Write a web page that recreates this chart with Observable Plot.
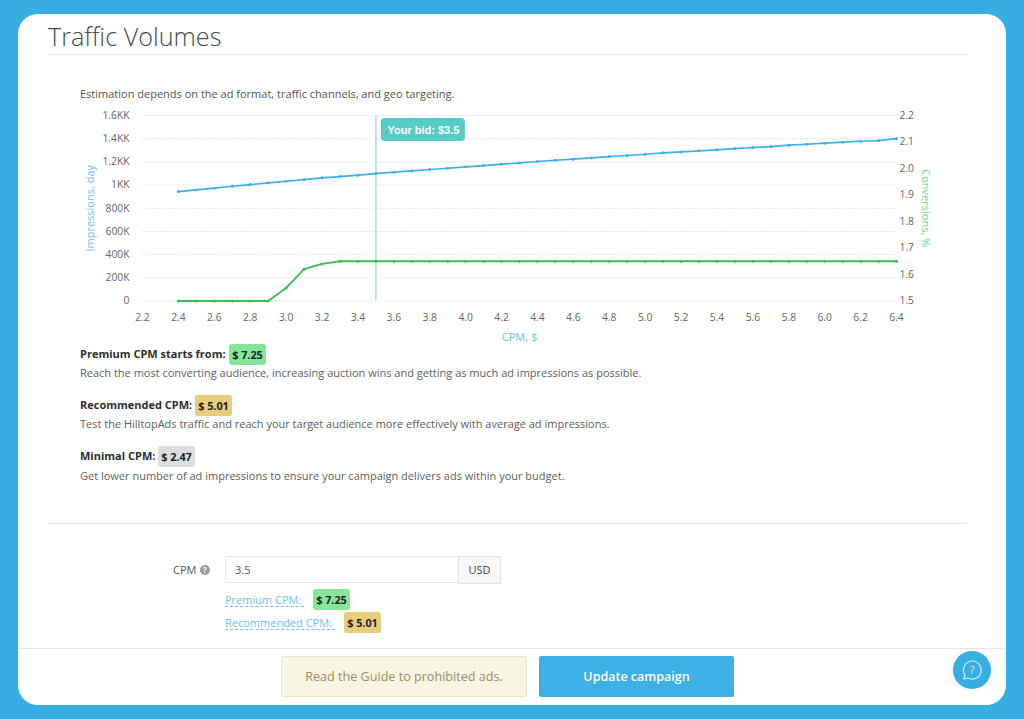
<!DOCTYPE html>
<html><head><meta charset="utf-8">
<script src="https://cdn.jsdelivr.net/npm/d3@7"></script>
<script src="https://cdn.jsdelivr.net/npm/@observablehq/plot@0.6"></script>
<style>
html,body{margin:0;padding:0;width:1024px;height:719px;overflow:hidden;background:#37aee2;font-family:"Open Sans",sans-serif;color:#555}
#card{position:absolute;left:18px;top:14px;width:988px;height:691px;background:#fff;border-radius:20px}
.a{position:absolute;white-space:nowrap;line-height:1}
.hr{position:absolute;left:48px;width:919px;height:0;border-top:1px solid #e6e6e6}
.badge{position:absolute;height:21px;line-height:21px;text-align:center;border-radius:3px;font-weight:700;font-size:10.8px;color:#222;width:37px}
.g{background:#87e59b}.y{background:#e8cd7c}.n{background:#dedede}
.b{font-weight:700;font-size:11px;color:#2e2e2e;left:80px}
.d{font-size:11px;color:#606060;left:80px}
.lnk{font-size:11px;color:#6cc3ee;left:225px;border-bottom:1px dashed #6cc3ee;padding-bottom:1px;padding-right:3px}
#chart{position:absolute;left:60px;top:100px;width:900px;height:250px}
#chart svg{display:block;overflow:visible}
</style></head><body>
<div id="card"></div>
<div class="a" style="left:48px;top:24px;font-size:25.2px;font-weight:300;color:#4a4a52">Traffic Volumes</div>
<div class="hr" style="top:54px;border-top:1px dotted #d8d8d8"></div>
<div class="a" style="left:80px;top:88px;font-size:11px;color:#555">Estimation depends on the ad format, traffic channels, and geo targeting.</div>
<div id="chart"></div>

<div class="a b" style="top:348px">Premium CPM starts from:</div>
<div class="badge g" style="left:229px;top:344px">$ 7.25</div>
<div class="a d" style="top:367px">Reach the most converting audience, increasing auction wins and getting as much ad impressions as possible.</div>
<div class="a b" style="top:399px">Recommended CPM:</div>
<div class="badge y" style="left:195px;top:395px">$ 5.01</div>
<div class="a d" style="top:418px">Test the HilltopAds traffic and reach your target audience more effectively with average ad impressions.</div>
<div class="a b" style="top:450px">Minimal CPM:</div>
<div class="badge n" style="left:158px;top:446px">$ 2.47</div>
<div class="a d" style="top:470px">Get lower number of ad impressions to ensure your campaign delivers ads within your budget.</div>

<div class="hr" style="top:523px"></div>

<div class="a" style="left:173px;top:564px;font-size:11px;color:#555">CPM</div>
<div class="a" style="left:200px;top:565px;width:10px;height:10px;border-radius:50%;background:#999;color:#fff;font-size:8px;font-weight:700;text-align:center;line-height:10px">?</div>
<div class="a" style="left:225px;top:556px;width:275px;height:27px;box-sizing:border-box;border:1px solid #e8e8e8;border-radius:2px"></div>
<div class="a" style="left:458px;top:556px;width:43px;height:28px;box-sizing:border-box;border:1px solid #e4e4e4;background:#f8f8f8;text-align:center;line-height:26px;font-size:11px;color:#444">USD</div>
<div class="a" style="left:235px;top:564px;font-size:11px;color:#555">3.5</div>
<div class="a lnk" style="top:594px">Premium CPM:</div>
<div class="badge g" style="left:313px;top:589px">$ 7.25</div>
<div class="a lnk" style="top:617px">Recommended CPM:</div>
<div class="badge y" style="left:344px;top:612px">$ 5.01</div>

<div class="a" style="left:18px;top:648px;width:988px;height:0;border-top:1px solid #e8e8e8"></div>
<div class="a" style="left:281px;top:656px;width:246px;height:41px;box-sizing:border-box;border:1px solid #ebe6c8;border-radius:2px;background:#f8f5e3;color:#a08c64;font-size:12.6px;text-align:center;line-height:39px">Read the Guide to prohibited ads.</div>
<div class="a" style="left:539px;top:656px;width:195px;height:41px;border-radius:2px;background:#3db0e6;color:#fff;font-size:12.5px;font-weight:600;text-align:center;line-height:41px">Update campaign</div>
<div class="a" style="left:953px;top:651px;width:38px;height:38px;border-radius:50%;background:#37aee2;box-shadow:0 0 12px rgba(0,0,0,.06)">
<svg width="38" height="38" viewBox="0 0 38 38" fill="none" stroke="#cfeefb" stroke-width="1.2"><path d="M19 10a9 9 0 1 1-4 17l-4 1 1-4a9 9 0 0 1 7-14z"/><text x="19" y="23" text-anchor="middle" font-size="11" fill="#cfeefb" stroke="none" font-family="Open Sans">?</text></svg></div>

<script>
const cpm = [2.4,2.5,2.6,2.7,2.8,2.9,3.0,3.1,3.2,3.3,3.4,3.5,3.6,3.7,3.8,3.9,4.0,4.1,4.2,4.3,4.4,4.5,4.6,4.7,4.8,4.9,5.0,5.1,5.2,5.3,5.4,5.5,5.6,5.7,5.8,5.9,6.0,6.1,6.2,6.3,6.4];
const impressionsK = [944,958,973,990,1004,1019,1033,1047,1062,1073,1085,1099,1111,1122,1134,1145,1157,1168,1180,1191,1203,1214,1223,1234,1246,1255,1266,1278,1286,1295,1304,1315,1324,1332,1344,1352,1361,1370,1378,1384,1401];
const conversions = [1.5,1.5,1.5,1.5,1.5,1.5,1.549,1.62,1.64,1.65,1.65,1.65,1.65,1.65,1.65,1.65,1.65,1.65,1.65,1.65,1.65,1.65,1.65,1.65,1.65,1.65,1.65,1.65,1.65,1.65,1.65,1.65,1.65,1.65,1.65,1.65,1.65,1.65,1.65,1.65,1.65];
const xTicks = [2.2,2.4,2.6,2.8,3.0,3.2,3.4,3.6,3.8,4.0,4.2,4.4,4.6,4.8,5.0,5.2,5.4,5.6,5.8,6.0,6.2,6.4];
const leftTicks = [0,200,400,600,800,1000,1200,1400,1600];
const rightTicks = [1.5,1.6,1.7,1.8,1.9,2.0,2.1,2.2];
const bid = 3.5;

const toLeft = d3.scaleLinear([1.5,2.2],[0,1600]);
const blue = "#3fb0e8", green = "#3dbb5e", tick = "#666";
const rows = cpm.map((x,i)=>({x, imp:impressionsK[i], conv:toLeft(conversions[i])}));
const fmtK = v => v===0 ? "0" : v>=1000 ? (v/1000)+"KK" : v+"K";

const chart = Plot.plot({
  width:900,height:250,marginLeft:82,marginRight:64,marginTop:15,marginBottom:49.5,
  style:{fontFamily:"'Open Sans',sans-serif",fontSize:"10.3px",background:"transparent",color:tick},
  x:{domain:[2.2,6.4]},
  y:{domain:[0,1600]},
  marks:[
    Plot.ruleY(leftTicks,{stroke:"#e4e4e4",strokeDasharray:"1.5,1"}),
    Plot.axisX({ticks:xTicks,tickSize:0,tickPadding:13,tickFormat:d3.format(".1f"),label:null}),
    Plot.axisY({ticks:leftTicks,tickSize:0,tickPadding:13,tickFormat:fmtK,label:null}),
    Plot.axisY({anchor:"right",ticks:rightTicks.map(toLeft),tickSize:0,tickPadding:3,tickFormat:v=>toLeft.invert(v).toFixed(1),label:null}),
    Plot.ruleX([bid],{stroke:"#a5e2de",strokeWidth:1.5}),
    Plot.line(rows,{x:"x",y:"imp",stroke:blue,strokeWidth:1.7}),
    Plot.dot(rows,{x:"x",y:"imp",r:1.5,fill:blue}),
    Plot.line(rows,{x:"x",y:"conv",stroke:green,strokeWidth:1.9}),
    Plot.dot(rows,{x:"x",y:"conv",r:1.5,fill:green}),
    Plot.rect([bid],{x1:bid,x2:bid,y1:1600,y2:1600,insetLeft:5.5,insetRight:-89.5,insetTop:3,insetBottom:-26,fill:"#55cdc6",rx:4}),
    Plot.text([bid],{x:bid,y:1600,dx:47.5,dy:15,text:d=>"Your bid: $"+d,fill:"#fff",fontWeight:700,fontSize:11,fontFamily:"'Liberation Sans',sans-serif"}),
    Plot.text(["Impressions, day"],{frameAnchor:"left",textAnchor:"middle",rotate:-90,dx:-52,fill:"#6cc3ee",fontSize:11}),
    Plot.text(["Conversions, %"],{frameAnchor:"right",textAnchor:"middle",rotate:90,dx:29,fill:"#6fd38a",fontSize:11}),
    Plot.text(["CPM, $"],{frameAnchor:"bottom",dy:40,fill:"#6cc3ee",fontSize:11})
  ]
});
document.getElementById("chart").append(chart);
</script>
</body></html>
